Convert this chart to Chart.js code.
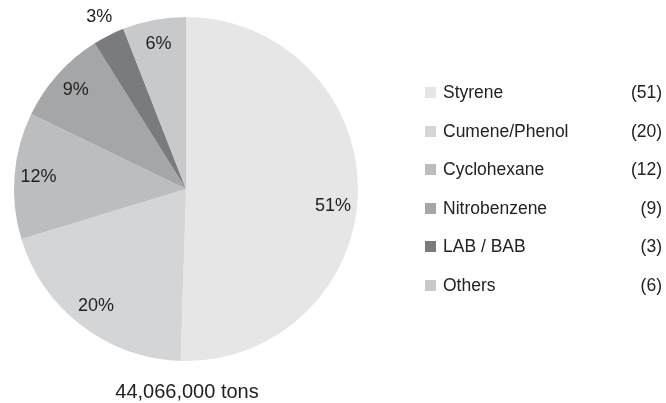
<!DOCTYPE html>
<html>
<head>
<meta charset="utf-8">
<script src="https://cdn.jsdelivr.net/npm/chart.js@4/dist/chart.umd.min.js"></script>
<style>
html,body{margin:0;padding:0;background:#fff;}
canvas{display:block;}
</style>
</head>
<body>
<canvas id="c" width="666" height="403"></canvas>
<script>
const categories = ["Styrene", "Cumene/Phenol", "Cyclohexane", "Nitrobenzene", "LAB / BAB", "Others"];
const shares = [51, 20, 12, 9, 3, 6];
const sliceColors = ["#e6e6e6", "#d4d5d7", "#bcbdbf", "#a5a6a8", "#797b7e", "#c8c9cb"];
const totalLabel = "44,066,000 tons";

const FONT = "'Liberation Sans', Arial, Helvetica, sans-serif";

const overlay = {
  id: 'overlay',
  afterDraw(chart) {
    const ctx = chart.ctx;
    const meta = chart.getDatasetMeta(0);
    const ds = chart.data.datasets[0];
    ctx.save();
    ctx.fillStyle = '#222';
    ctx.textAlign = 'center';
    ctx.textBaseline = 'middle';
    ctx.font = '18px ' + FONT;
    // percentage labels
    meta.data.forEach((arc, i) => {
      const p = arc.getProps(['x','y','startAngle','endAngle','outerRadius'], true);
      let mid = (p.startAngle + p.endAngle) / 2;
      let rf = 0.86;
      if (ds.data[i] < 5) rf = 1.12;
      if (i === 0) mid += 0.1;
      const x = p.x + Math.cos(mid) * p.outerRadius * rf;
      const y = p.y + Math.sin(mid) * p.outerRadius * rf;
      ctx.fillText(ds.data[i] + '%', x, y);
    });
    // total label under pie
    const p0 = meta.data[0].getProps(['x','y','outerRadius'], true);
    ctx.font = '20px ' + FONT;
    ctx.fillText(totalLabel, p0.x + 1, p0.y + p0.outerRadius + 31);
    // legend
    ctx.font = '17.5px ' + FONT;
    const top = 92.5, step = 38.5;
    categories.forEach((c, i) => {
      const y = top + i * step;
      ctx.fillStyle = sliceColors[i];
      ctx.fillRect(425, Math.round(y - 5.5), 11, 11);
      ctx.fillStyle = '#222';
      ctx.textAlign = 'left';
      ctx.fillText(c, 443, y + 1);
      ctx.textAlign = 'right';
      ctx.fillText('(' + shares[i] + ')', 662, y + 1);
    });
    ctx.restore();
  }
};

new Chart(document.getElementById('c'), {
  type: 'pie',
  data: {
    labels: categories,
    datasets: [{
      data: shares,
      backgroundColor: sliceColors,
      borderWidth: 0
    }]
  },
  options: {
    responsive: false,
    animation: false,
    layout: { padding: { left: 14, right: 308, top: 17, bottom: 42 } },
    plugins: {
      legend: { display: false },
      tooltip: { enabled: false }
    }
  },
  plugins: [overlay]
});
</script>
</body>
</html>
